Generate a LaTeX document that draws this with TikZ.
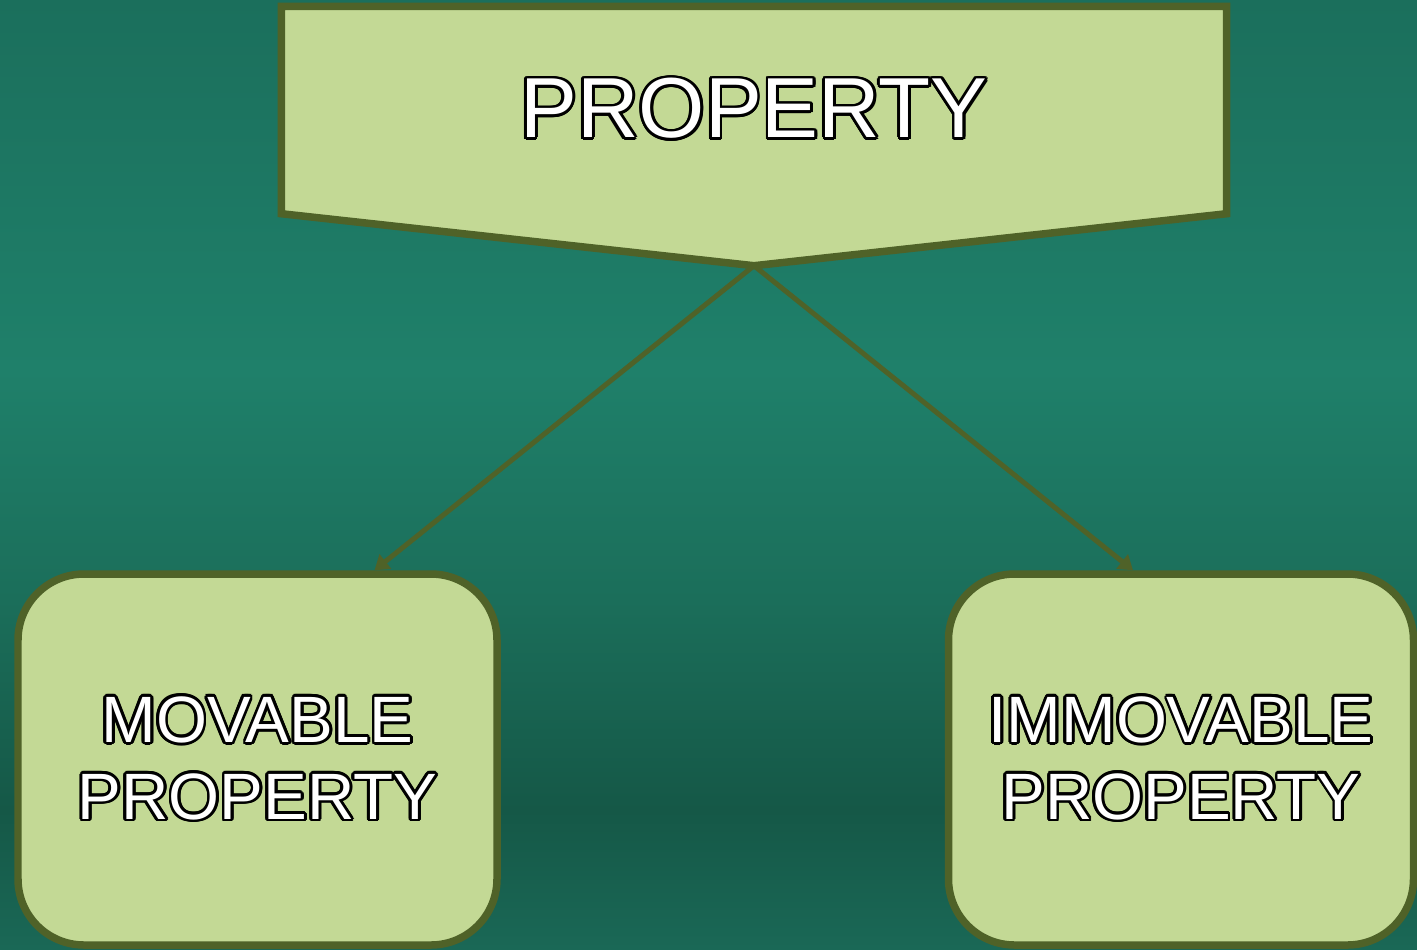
\documentclass[tikz,border=0pt]{standalone}
\usepackage{fontspec}
\setmainfont{Liberation Sans}
\usepackage{contour}
\contourlength{0.8pt}
\usetikzlibrary{positioning, arrows.meta, calc, backgrounds}

\definecolor{boxfill}{RGB}{195,217,149}
\definecolor{boxline}{RGB}{79,98,40}
\definecolor{bgA}{RGB}{27,111,92}
\definecolor{bgB}{RGB}{31,128,106}
\definecolor{bgC}{RGB}{27,110,90}
\definecolor{bgD}{RGB}{21,88,71}
\definecolor{bgE}{RGB}{26,104,86}

\begin{document}
\begin{tikzpicture}[
  topbox/.style={minimum width=9.44cm, minimum height=2.06cm, inner sep=0pt,
                 text=white, font=\fontsize{24.25}{29}\selectfont},
  propbox/.style={draw=boxline, fill=boxfill, line width=0.075cm, rounded corners=0.66cm,
                  minimum height=3.71cm, align=center, text=white,
                  font=\fontsize{18.65}{21.9}\selectfont},
  pentagon/.style={draw=boxline, fill=boxfill, line width=0.075cm, line join=miter},
  arr/.style={-{Triangle[length=0.14cm, width=0.18cm]}, line width=0.05cm, color=boxline},
]

\useasboundingbox (0,0) rectangle (14.17,-9.49);

% m1: Property (top)
\node[topbox] (m1) at (7.54,-1.10) {\contour{black}{PROPERTY}};

% m2: Movable Property
\node[propbox, minimum width=4.79cm] (m2) at (2.575,-7.595)
  {\contour{black}{MOVABLE}\\\contour{black}{PROPERTY}};

% m3: Immovable Property
\node[propbox, minimum width=4.65cm, right=4.44cm of m2] (m3)
  {\contour{black}{IMMOVABLE}\\\contour{black}{PROPERTY}};

% Background gradient and pentagon behind the text
\begin{scope}[on background layer]
  \shade[top color=bgA, bottom color=bgB] (0,0) rectangle (14.17,-3.70);
  \shade[top color=bgB, bottom color=bgC] (0,-3.70) rectangle (14.17,-6.00);
  \shade[top color=bgC, bottom color=bgD] (0,-6.00) rectangle (14.17,-8.10);
  \shade[top color=bgD, bottom color=bgE] (0,-8.10) rectangle (14.17,-9.49);
  \draw[pentagon] (m1.north west) -- (m1.north east) -- (m1.south east)
    -- ($(m1.south)+(0,-0.52)$) coordinate (m1tip) -- (m1.south west) -- cycle;
\end{scope}

% Arrows
\draw[arr] (m1tip) -- ([xshift=1.17cm]m2.north);
\draw[arr] (m1tip) -- ([xshift=-0.48cm]m3.north);

\end{tikzpicture}
\end{document}
